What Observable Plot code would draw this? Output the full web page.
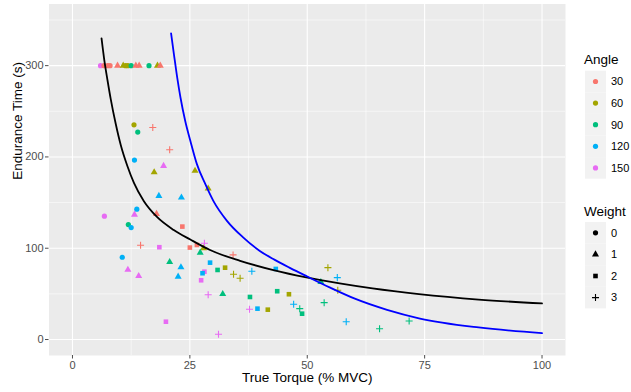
<!DOCTYPE html>
<html><head><meta charset="utf-8">
<script src="https://cdn.jsdelivr.net/npm/d3@7"></script>
<script src="https://cdn.jsdelivr.net/npm/@observablehq/plot@0.6"></script>
<style>
body{margin:0;background:#fff;}
#wrap{position:relative;width:631px;height:392px;font-family:"Liberation Sans",Arial,sans-serif;}
#wrap svg.legend{position:absolute;left:0;top:0;pointer-events:none;}
</style></head><body><div id="wrap"></div>
<script>
// ---- categories / legend labels ----
const angles = [30, 60, 90, 120, 150];
const angleColors = ["#F8766D", "#A3A500", "#00BF7D", "#00B0F6", "#E76BF3"];
const weights = [0, 1, 2, 3];
const xTicks = [0, 25, 50, 75, 100];
const yTicks = [0, 100, 200, 300];
const xMinor = [12.5, 37.5, 62.5, 87.5];
const yMinor = [50, 150, 250, 350];

const torque = [5.97, 6.7, 7.5, 8.0, 9.6, 10.8, 11.3, 11.8, 12.5, 13.5, 14.2, 16.3, 18.1, 18.7,
  13.1, 13.9, 17.1, 20.7, 13.2, 19.4, 17.4, 26.1, 28.9, 18.4, 23.2, 13.7, 6.8, 13.2, 17.9, 11.9, 12.5, 23.4,
  14.5, 18.5, 25.0, 26.5, 28.1, 27.9, 27.2, 10.6, 20.7, 23.1, 22.5, 11.8, 14.1, 28.1, 27.7, 27.4, 29.3, 28.9,
  19.9, 34.2, 30.9, 32.5, 34.3, 35.7, 38.2, 43.3, 54.4, 56.4, 52.9, 56.5, 32.0, 37.8, 43.6, 46.1, 47.1, 48.4,
  48.9, 37.7, 39.4, 41.6, 31.1, 53.6, 58.3, 65.4, 71.7];
const endurance = [300, 300, 300, 300, 300, 300, 300, 300, 300, 300, 300, 300, 300, 300,
  235.2, 227.2, 232.2, 207.8, 196.5, 190.2, 183.3, 184.8, 165.4, 157.3, 155.5, 142.8, 135.1, 136.8, 137.6, 125.9, 122.6, 123.7,
  103.3, 101.1, 100.7, 103.6, 105.5, 100, 95.2, 90.1, 85, 79.2, 68.9, 76.5, 69.6, 74.3, 72.6, 64.9, 84.2, 49.1,
  19.5, 92.7, 76.2, 78.7, 71.5, 67.1, 74.8, 77.3, 78.7, 67.8, 63, 53.9, 49.9, 46.6, 52.9, 49.6, 38.6, 33.8,
  28.3, 33.1, 33.8, 32.7, 5.7, 40.4, 19.5, 11.8, 20.3];
const angle = [150, 30, 30, 30, 30, 60, 60, 60, 90, 30, 30, 90, 60, 30,
  60, 90, 30, 30, 120, 150, 60, 60, 60, 120, 120, 120, 150, 150, 30, 90, 120, 30,
  30, 150, 30, 30, 150, 60, 90, 120, 90, 120, 120, 150, 150, 150, 120, 150, 120, 150,
  150, 30, 90, 60, 60, 60, 120, 120, 60, 120, 90, 60, 90, 90, 90, 60, 120, 90,
  90, 150, 120, 60, 150, 90, 120, 90, 90];
const weight = [0, 0, 0, 0, 1, 1, 0, 0, 0, 1, 1, 0, 1, 1,
  0, 0, 3, 3, 0, 1, 1, 1, 1, 1, 1, 0, 0, 1, 1, 0, 0, 2,
  3, 2, 2, 2, 3, 1, 1, 0, 1, 1, 1, 1, 1, 2, 2, 2, 2, 3,
  2, 3, 2, 2, 3, 3, 3, 2, 3, 3, 1, 3, 1, 2, 2, 2, 3, 3,
  2, 3, 2, 2, 3, 3, 3, 3, 3];

// ---- fitted curves ----
const blackX = [6.19, 6.74, 7.46, 8.16, 9.22, 10.28, 11.69, 13.09, 15.21, 18.05, 21.57, 25.1, 29.3, 35.7, 42.8, 49.8, 56.9, 63.9, 73.8, 86.5, 100];
const blackY = [329.8, 307.5, 284, 263, 236, 213, 190, 171.5, 151.5, 134, 120, 109.5, 98, 86.2, 76, 68, 61.5, 56, 49.8, 43.8, 39.5];
const blueX = [21.0, 21.6, 22.3, 23.0, 24.0, 25.1, 26.5, 28.3, 30.0, 32.9, 36.4, 39.9, 43, 46.3, 50, 55, 60, 67, 74, 86.5, 100];
const blueY = [335.3, 312.7, 287.1, 265.1, 239.6, 217.7, 192.1, 170.2, 151.9, 130.0, 111.6, 97, 87.5, 78.5, 69, 56.5, 45, 32.5, 23, 13.2, 7];

const obs = torque.map((t, i) => ({torque: t, time: endurance[i], angle: angle[i], weight: weight[i]}));
const filled = obs.filter(d => d.weight !== 3);
const pluses = obs.filter(d => d.weight === 3);
const black = blackX.map((x, i) => ({x, y: blackY[i]}));
const blue = blueX.map((x, i) => ({x, y: blueY[i]}));

const FONT = '"Liberation Sans", Arial, sans-serif';
const rFilled = 2.6, rPlus = 2.4;

const plot = Plot.plot({
  width: 631, height: 392,
  marginLeft: 48.5, marginRight: 66, marginTop: 3.5, marginBottom: 37,
  x: {domain: [-5, 105]},
  y: {domain: [-17.5, 367.5]},
  color: {domain: angles, range: angleColors},
  symbol: {domain: [0, 1, 2], range: ["circle", "triangle", "square"]},
  style: {fontFamily: FONT, background: "white", overflow: "visible"},
  marks: [
    Plot.frame({fill: "#EBEBEB", stroke: "none"}),
    Plot.gridX(xMinor, {stroke: "white", strokeOpacity: 1, strokeWidth: 0.55}),
    Plot.gridY(yMinor, {stroke: "white", strokeOpacity: 1, strokeWidth: 0.55}),
    Plot.gridX(xTicks, {stroke: "white", strokeOpacity: 1, strokeWidth: 1.1}),
    Plot.gridY(yTicks, {stroke: "white", strokeOpacity: 1, strokeWidth: 1.1}),
    Plot.axisX(xTicks, {tickSize: 3.5, tickPadding: 2, fontSize: 11, color: "#4d4d4d", label: null}),
    Plot.axisY(yTicks, {tickSize: 3.5, tickPadding: 2, fontSize: 11, color: "#4d4d4d", label: null}),
    Plot.dot(filled, {x: "torque", y: "time", fill: "angle", symbol: "weight", r: rFilled}),
    Plot.dot(pluses, {x: "torque", y: "time", stroke: "angle", symbol: "plus", r: rPlus, strokeWidth: 1.1}),
    Plot.line(black, {x: "x", y: "y", stroke: "black", strokeWidth: 1.8, curve: "monotone-x"}),
    Plot.line(blue, {x: "x", y: "y", stroke: "blue", strokeWidth: 1.8, curve: "monotone-x"}),
    Plot.text(["True Torque (% MVC)"], {frameAnchor: "bottom", dy: 26, fontSize: 13.5, fill: "black"}),
    Plot.text(["Endurance Time (s)"], {frameAnchor: "left", dx: -31.5, rotate: -90, fontSize: 13.5, fill: "black"})
  ]
});
const wrap = document.getElementById("wrap");
wrap.appendChild(plot);

// ---- legend (ggplot style), using the plot's scales ----
const colorScale = plot.scale("color");
const svg = d3.select(wrap).append("svg").attr("class", "legend")
  .attr("width", 631).attr("height", 392).style("font-family", FONT);
const keyH = 21.6, keyW = 21, keyX = 585;
function section(title, titleY, firstY, items, drawSym) {
  svg.append("text").attr("x", 584).attr("y", titleY).attr("dy", "0.35em")
    .attr("font-size", 13.5).attr("fill", "black").text(title);
  items.forEach((it, i) => {
    const cy = firstY + i * keyH;
    svg.append("rect").attr("x", keyX).attr("y", cy - keyH / 2).attr("width", keyW).attr("height", keyH).attr("fill", "#F2F2F2");
    drawSym(it, keyX + keyW / 2, cy);
    svg.append("text").attr("x", 611).attr("y", cy).attr("dy", "0.35em")
      .attr("font-size", 11).attr("fill", "black").text(it);
  });
}
section("Angle", 59, 81.5, colorScale.domain, (a, cx, cy) => {
  svg.append("circle").attr("cx", cx).attr("cy", cy).attr("r", rFilled).attr("fill", colorScale.apply(a));
});
const symTypes = [d3.symbolCircle, d3.symbolTriangle, d3.symbolSquare, d3.symbolPlus];
section("Weight", 211.5, 232.8, weights, (w, cx, cy) => {
  const r = w === 3 ? rPlus : rFilled;
  const p = d3.symbol(symTypes[w], Math.PI * r * r)();
  const el = svg.append("path").attr("d", p).attr("transform", `translate(${cx},${cy})`);
  if (w === 3) el.attr("fill", "none").attr("stroke", "black").attr("stroke-width", 1.1);
  else el.attr("fill", "black");
});
</script></body></html>
